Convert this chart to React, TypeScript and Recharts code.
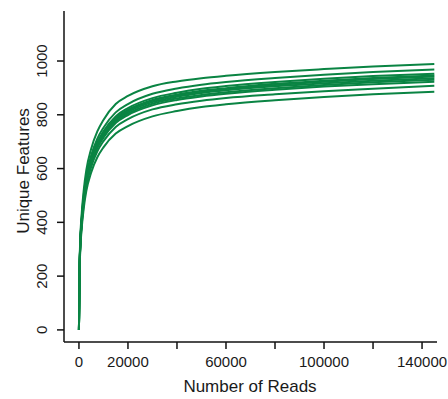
import { LineChart, Line, XAxis, YAxis } from "recharts";

const reads = [0, 250, 500, 1000, 2000, 3000, 5000, 7500, 10000, 15000, 20000, 30000, 40000, 50000, 60000, 80000, 100000, 120000, 145000];

const sampleA = [0, 235, 332, 417, 524, 594, 674, 738, 781, 840, 870, 906, 924, 936, 945, 959, 970, 980, 989];
const sampleB = [0, 227, 319, 402, 505, 572, 649, 711, 752, 809, 840, 878, 898, 912, 922, 937, 949, 959, 968];
const sampleC = [0, 223, 314, 395, 496, 562, 638, 698, 739, 794, 825, 862, 882, 897, 907, 922, 934, 944, 953];
const sampleD = [0, 221, 311, 392, 492, 557, 633, 693, 733, 788, 818, 855, 875, 889, 899, 915, 927, 937, 946];
const sampleE = [0, 220, 310, 390, 490, 555, 630, 690, 730, 785, 815, 852, 872, 886, 896, 911, 923, 933, 942];
const sampleF = [0, 219, 308, 388, 487, 552, 626, 686, 726, 780, 810, 847, 867, 881, 891, 906, 917, 927, 936];
const sampleG = [0, 217, 306, 385, 484, 548, 622, 681, 721, 775, 804, 841, 861, 874, 884, 899, 911, 921, 930];
const sampleH = [0, 216, 304, 382, 480, 544, 617, 676, 715, 769, 799, 835, 855, 868, 878, 893, 905, 914, 923];
const sampleI = [0, 212, 298, 375, 471, 534, 606, 664, 702, 755, 784, 820, 839, 852, 862, 876, 888, 897, 908];
const sampleJ = [0, 205, 288, 363, 456, 516, 586, 642, 679, 730, 758, 794, 814, 829, 839, 854, 866, 876, 886];

const samples = [sampleA, sampleB, sampleC, sampleD, sampleE, sampleF, sampleG, sampleH, sampleI, sampleJ];

const xTicks = [0, 20000, 40000, 60000, 80000, 100000, 120000, 140000];
const xTickLabels = ["0", "20000", "", "60000", "", "100000", "", "140000"];
const yTicks = [0, 200, 400, 600, 800, 1000];

const data = reads.map((r, i) => {
  const row: any = { reads: r };
  samples.forEach((s, j) => {
    row["s" + j] = s[i];
  });
  return row;
});

const font = "'Liberation Sans', Arial, sans-serif";
const green = "#0a8443";

function YTick({ x, y, payload }: any) {
  return (
    <text
      transform={`translate(${x - 8},${y}) rotate(-90)`}
      textAnchor="middle"
      fontSize={15}
      fontFamily={font}
      fill="#1a1a1a"
    >
      {payload.value}
    </text>
  );
}

function XTick({ x, y, index }: any) {
  return (
    <text x={x} y={y + 16} textAnchor="middle" fontSize={15} fontFamily={font} fill="#1a1a1a">
      {xTickLabels[index] ?? ""}
    </text>
  );
}

export default function App() {
  return (
    <div style={{ position: "absolute", left: 0, top: 0, background: "#fff" }}>
      <LineChart width={448} height={399} data={data} margin={{ top: 11, right: 11, bottom: 0, left: 0 }}>
        <XAxis
          dataKey="reads"
          type="number"
          domain={[-6100, 146100]}
          ticks={xTicks}
          interval={0}
          allowDataOverflow
          height={57}
          tickSize={7}
          tickMargin={2}
          stroke="#111"
          strokeWidth={1.5}
          tick={<XTick />}
          label={{
            content: () => (
              <text x={250} y={392} textAnchor="middle" fontSize={17} fontFamily={font} fill="#1a1a1a">
                Number of Reads
              </text>
            ),
          }}
        />
        <YAxis
          type="number"
          domain={[-45, 1186]}
          ticks={yTicks}
          interval={0}
          allowDataOverflow
          width={64}
          tickSize={7}
          tickMargin={2}
          stroke="#111"
          strokeWidth={1.5}
          tick={<YTick />}
          label={{
            content: () => (
              <text
                transform="translate(29,171) rotate(-90)"
                textAnchor="middle"
                fontSize={17}
                fontFamily={font}
                fill="#1a1a1a"
              >
                Unique Features
              </text>
            ),
          }}
        />
        {samples.map((_, j) => (
          <Line
            key={j}
            dataKey={"s" + j}
            type="monotone"
            stroke={green}
            strokeWidth={2}
            dot={false}
            isAnimationActive={false}
          />
        ))}
      </LineChart>
    </div>
  );
}
